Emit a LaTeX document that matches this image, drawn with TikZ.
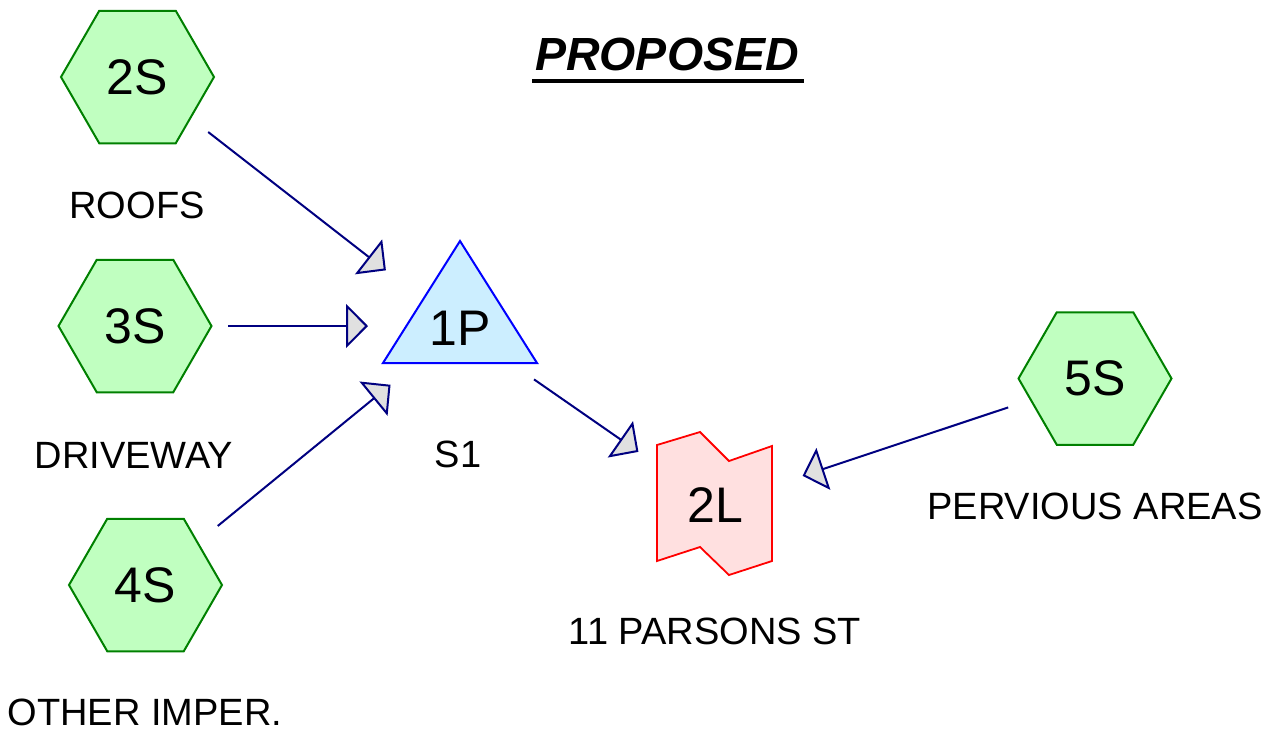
\documentclass[tikz,border=0pt]{standalone}
\usepackage{fontspec}
\setmainfont{Liberation Sans}
\usetikzlibrary{shapes.geometric,arrows.meta}

\definecolor{hexfill}{HTML}{C0FFC0}
\definecolor{hexline}{HTML}{008000}
\definecolor{pondfill}{HTML}{CCEEFF}
\definecolor{pondline}{HTML}{0000FF}
\definecolor{linkfill}{HTML}{FFE0E0}
\definecolor{linkline}{HTML}{FF0000}
\definecolor{flow}{HTML}{000080}
\definecolor{tipfill}{HTML}{E0E0E0}

\tikzset{
  subcat/.style={regular polygon, regular polygon sides=6, minimum size=153pt,
    inner sep=0pt, draw=hexline, fill=hexfill, line width=2pt,
    font=\fontsize{50}{50}\selectfont},
  bigtext/.style={inner sep=0pt, font=\fontsize{50}{50}\selectfont},
  caption/.style={inner sep=0pt, font=\fontsize{38}{38}\selectfont},
  pond/.style={draw=pondline, fill=pondfill, line width=2pt},
  reach/.style={draw=linkline, fill=linkfill, line width=1.8pt},
  flowline/.style={draw=flow, line width=2pt,
    -{Triangle[length=22pt,width=44pt,fill=tipfill]}},
}

\begin{document}
\begin{tikzpicture}[x=1pt,y=-1pt]
\useasboundingbox (0,0) rectangle (1281,734);

% title
\node[inner sep=0pt, font=\fontsize{46.5}{46.5}\selectfont\bfseries\itshape]
  (title) at (667,54.5) {PROPOSED};
\draw[line width=4pt] ([xshift=-3pt,yshift=-10pt]title.base west)
  -- ([xshift=5pt,yshift=-10pt]title.base east);

% subcatchments
\node[subcat] (2S) at (137.5,77) {2S};
\node[subcat] (3S) at (135,326) {3S};
\node[subcat] (4S) at (145.5,585) {4S};
\node[subcat] (5S) at (1095,378.5) {5S};

% pond
\draw[pond] (460,241) -- (537,363) -- (383,363) -- cycle;
\node[bigtext] (1P) at (460,328) {1P};

% link
\draw[reach] (657,445) -- (700,432) -- (729,461) -- (772,446) -- (772,561)
  -- (729,575) -- (700,547) -- (657,561) -- cycle;
\node[bigtext] (2L) at (715,505) {2L};

% captions
\node[caption] (c2S) at (137,205) {ROOFS};
\node[caption] (c3S) at (134,455) {DRIVEWAY};
\node[caption] (c4S) at (145,712) {OTHER IMPER.};
\node[caption] (c1P) at (458,454) {S1};
\node[caption] (c2L) at (715,631) {11 PARSONS ST};
\node[caption] (c5S) at (1095,506) {PERVIOUS AREAS};

% flow connections
\draw[flowline, shorten <=89.6pt, shorten >=93.9pt] (2S.center) -- (1P.center);
\draw[flowline, shorten <=93pt, shorten >=92pt] (3S.center) -- (3S.center -| 1P.center);
\draw[flowline, shorten <=93.3pt, shorten >=89.7pt] (4S.center) -- (1P.center);
\draw[flowline, shorten <=90.1pt, shorten >=93.2pt] (1P.center) -- (2L.center);
\draw[flowline, shorten <=91.5pt, shorten >=92.3pt] (5S.center) -- (2L.center);
\end{tikzpicture}
\end{document}
